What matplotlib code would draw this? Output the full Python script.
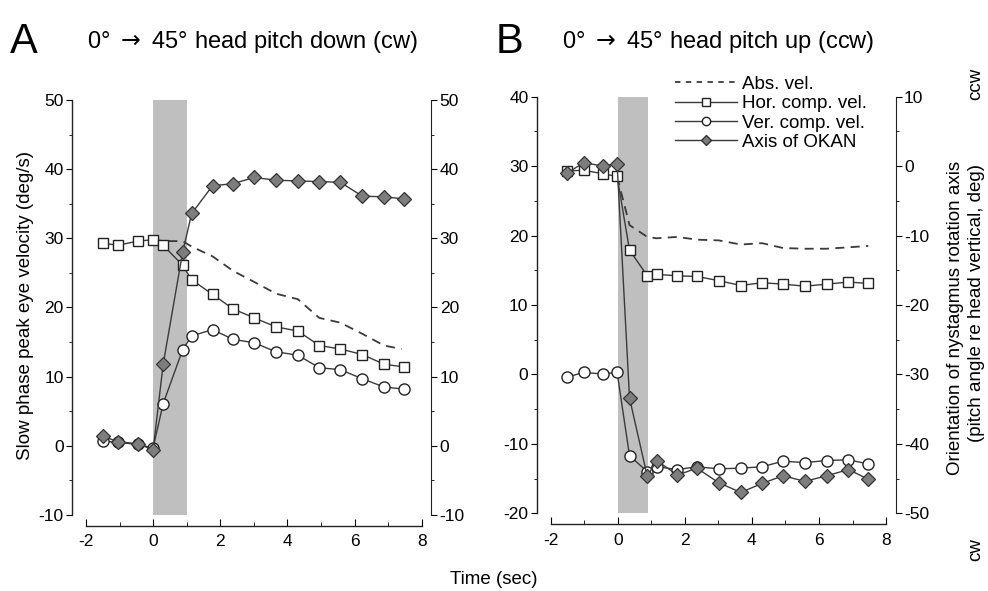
import matplotlib
matplotlib.use("Agg")
import matplotlib.pyplot as plt
from matplotlib.lines import Line2D
from matplotlib.ticker import MultipleLocator

plt.rcParams['font.family'] = ['Liberation Sans', 'DejaVu Sans']
plt.rcParams['axes.unicode_minus'] = False

# ---------------- data: panel A (head pitch down) ----------------
t_a = [-1.5, -1.05, -0.45, 0.0, 0.3, 0.88, 1.15, 1.77, 2.38, 3.01, 3.66, 4.31, 4.95, 5.58, 6.23, 6.88, 7.48]
hor_a = [29.3, 29.0, 29.6, 29.8, 29.0, 26.1, 24.0, 21.9, 19.8, 18.5, 17.2, 16.6, 14.5, 14.0, 13.2, 11.8, 11.4]
ver_a = [0.7, 0.5, 0.2, -0.3, 6.1, 13.9, 15.9, 16.8, 15.4, 14.9, 13.6, 13.1, 11.3, 11.0, 9.7, 8.5, 8.2]
okan_a = [1.4, 0.6, 0.3, -0.6, 11.8, 28.0, 33.6, 37.6, 37.9, 38.8, 38.4, 38.3, 38.2, 38.1, 36.1, 36.0, 35.7]
t_abs_a = [0.0, 0.3, 0.88, 1.15, 1.77, 2.38, 3.01, 3.66, 4.31, 4.95, 5.58, 6.23, 6.88, 7.4]
abs_a = [29.8, 29.6, 29.6, 28.8, 27.4, 25.3, 23.7, 22.0, 21.2, 18.5, 17.8, 16.2, 14.5, 14.0]
stim_a = (0.0, 1.0)

# ---------------- data: panel B (head pitch up) ----------------
t_b = [-1.5, -1.02, -0.45, -0.02, 0.35, 0.88, 1.16, 1.78, 2.36, 3.01, 3.67, 4.30, 4.93, 5.58, 6.23, 6.88, 7.47]
hor_b = [29.3, 29.4, 28.9, 28.5, 17.9, 14.2, 14.4, 14.2, 14.1, 13.5, 12.8, 13.2, 13.0, 12.7, 13.0, 13.3, 13.1]
ver_b = [-0.4, 0.3, 0.05, 0.3, -11.7, -14.0, -13.3, -13.7, -13.3, -13.6, -13.5, -13.3, -12.5, -12.7, -12.4, -12.3, -12.9]
okan_b = [-1.0, 0.5, 0.0, 0.3, -33.4, -44.7, -42.4, -44.5, -43.5, -45.6, -47.0, -45.7, -44.6, -45.4, -44.6, -43.7, -45.1]
t_abs_b = [-0.02, 0.35, 0.88, 1.16, 1.78, 2.36, 3.01, 3.67, 4.30, 4.93, 5.58, 6.23, 6.88, 7.47]
abs_b = [28.5, 21.5, 19.8, 19.6, 19.8, 19.4, 19.3, 18.7, 18.9, 18.2, 18.1, 18.1, 18.3, 18.5]
stim_b = (0.0, 0.9)

legend_labels = ["Abs. vel.", "Hor. comp. vel.", "Ver. comp. vel.", "Axis of OKAN"]

LC = '#3a3a3a'
SHADE = '#bfbfbf'
DIA = '#7d7d7d'
TICK_FS = 12.5
LAB_FS = 13.5

fig = plt.figure(figsize=(9.88, 5.91), dpi=100)
axA = fig.add_axes([0.0870, 0.1286, 0.3398, 0.7022])
axB = fig.add_axes([0.5574, 0.1315, 0.3394, 0.7050])


def style(ax, ylim, yr):
    ax.set_xlim(-2, 8)
    ax.set_ylim(*ylim)
    for s in ['top', 'right']:
        ax.spines[s].set_visible(False)
    ax.spines['left'].set_position(('outward', 10))
    ax.spines['bottom'].set_position(('outward', 8))
    ax.xaxis.set_major_locator(MultipleLocator(2))
    ax.xaxis.set_minor_locator(MultipleLocator(1))
    ax.yaxis.set_major_locator(MultipleLocator(10))
    ax.yaxis.set_minor_locator(MultipleLocator(5))
    ax.tick_params(axis='x', which='both', direction='in', labelsize=TICK_FS, pad=6)
    ax.tick_params(axis='x', which='major', length=5)
    ax.tick_params(axis='x', which='minor', length=3)
    ax.tick_params(axis='y', which='both', direction='out', labelsize=TICK_FS, pad=2)
    ax.tick_params(axis='y', which='major', length=4)
    ax.tick_params(axis='y', which='minor', length=2.5)
    for s in ['left', 'bottom']:
        ax.spines[s].set_linewidth(1.0)
        ax.spines[s].set_color('#222222')
    tw = ax.twinx()
    tw.set_ylim(*yr)
    for s in ['top', 'left', 'bottom']:
        tw.spines[s].set_visible(False)
    tw.spines['right'].set_position(('outward', 7))
    tw.spines['right'].set_color('#222222')
    tw.yaxis.set_major_locator(MultipleLocator(10))
    tw.yaxis.set_minor_locator(MultipleLocator(5))
    tw.tick_params(axis='y', which='both', direction='out', labelsize=TICK_FS, pad=2)
    tw.tick_params(axis='y', which='major', length=4)
    tw.tick_params(axis='y', which='minor', length=2.5)
    return tw


def draw(ax, tw, t, hor, ver, okan, tabs, absv, stim):
    ax.axvspan(stim[0], stim[1], color=SHADE, lw=0, zorder=0)
    ax.plot(tabs, absv, color=LC, lw=1.3, dashes=(5, 3.5), zorder=2)
    ax.plot(t, hor, color=LC, lw=1.0, marker='s', ms=7.5, mfc='white', mec='#222222',
            mew=1.0, zorder=3)
    ax.plot(t, ver, color=LC, lw=1.0, marker='o', ms=8, mfc='white', mec='#222222',
            mew=1.0, zorder=3)
    tw.plot(t, okan, color=LC, lw=1.0, marker='D', ms=7, mfc=DIA, mec='#333333',
            mew=0.9, zorder=4)


twA = style(axA, (-10, 50), (-10, 50))
twB = style(axB, (-20, 40), (-50, 10))
draw(axA, twA, t_a, hor_a, ver_a, okan_a, t_abs_a, abs_a, stim_a)
draw(axB, twB, t_b, hor_b, ver_b, okan_b, t_abs_b, abs_b, stim_b)

# legend
handles = [
    Line2D([], [], color=LC, lw=1.3, dashes=(3, 3)),
    Line2D([], [], color=LC, lw=1.0, marker='s', ms=6, mfc='white', mec='#222222'),
    Line2D([], [], color=LC, lw=1.0, marker='o', ms=6, mfc='white', mec='#222222'),
    Line2D([], [], color=LC, lw=1.0, marker='D', ms=5.5, mfc=DIA, mec='#333333'),
]
twB.legend(handles, legend_labels, loc='upper left', bbox_to_anchor=(0.37, 1.05),
           frameon=False, fontsize=LAB_FS, handlelength=3.3, handletextpad=0.3,
           labelspacing=0.12, borderpad=0, borderaxespad=0)

# titles
ARROW = r"$\rightarrow$"
fig.text(10 / 988, 1 - 53 / 591, "A", fontsize=30, va='baseline', ha='left')
fig.text(87 / 988, 1 - 48 / 591, "0° " + ARROW + " 45° head pitch down (cw)", fontsize=17,
         va='baseline', ha='left')
fig.text(496 / 988, 1 - 53 / 591, "B", fontsize=30, va='baseline', ha='left')
fig.text(562 / 988, 1 - 48 / 591, "0° " + ARROW + " 45° head pitch up (ccw)", fontsize=17,
         va='baseline', ha='left')

# axis labels
fig.text(26 / 988, 1 - 306 / 591, "Slow phase peak eye velocity (deg/s)", fontsize=LAB_FS,
         rotation=90, ha='center', va='center')
fig.text(494 / 988, 1 - 579 / 591, "Time (sec)", fontsize=LAB_FS, ha='center', va='center')
fig.text(955 / 988, 1 - 318 / 591, "Orientation of nystagmus rotation axis", fontsize=LAB_FS,
         rotation=90, ha='center', va='center')
fig.text(976 / 988, 1 - 303 / 591, "(pitch angle re head vertical, deg)", fontsize=LAB_FS,
         rotation=90, ha='center', va='center')
fig.text(976 / 988, 1 - 84 / 591, "ccw", fontsize=LAB_FS, rotation=90, ha='center', va='center')
fig.text(976 / 988, 1 - 550 / 591, "cw", fontsize=LAB_FS, rotation=90, ha='center', va='center')

fig.savefig("out.png", dpi=100)
